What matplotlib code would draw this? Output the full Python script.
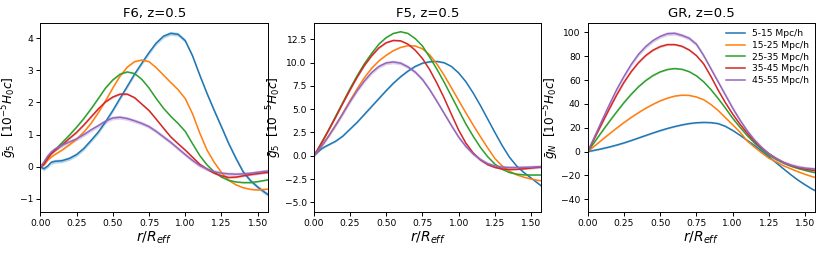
import matplotlib
matplotlib.use("Agg")
import matplotlib.pyplot as plt
import numpy as np

r = [0, 0.025, 0.05, 0.075, 0.1, 0.15, 0.2, 0.25, 0.3, 0.35, 0.4, 0.45, 0.5, 0.55,
     0.6, 0.65, 0.7, 0.75, 0.8, 0.85, 0.9, 0.95, 1.0, 1.05, 1.1, 1.15, 1.2, 1.25,
     1.3, 1.35, 1.4, 1.45, 1.5, 1.55, 1.6]

labels = ["5-15 Mpc/h", "15-25 Mpc/h", "25-35 Mpc/h", "35-45 Mpc/h", "45-55 Mpc/h"]
colors = ["#1f77b4", "#ff7f0e", "#2ca02c", "#d62728", "#9467bd"]

# F6, z=0.5
f6_blue = [0.0, -0.06, 0.02, 0.14, 0.17, 0.19, 0.26, 0.38, 0.57, 0.82, 1.08, 1.40, 1.75, 2.13,
           2.50, 2.88, 3.22, 3.55, 3.85, 4.06, 4.15, 4.12, 3.92, 3.45, 2.85, 2.28, 1.75, 1.24,
           0.72, 0.26, -0.16, -0.43, -0.63, -0.80, -0.95]
f6_orange = [0.0, 0.05, 0.2, 0.3, 0.38, 0.52, 0.68, 0.86, 1.08, 1.35, 1.68, 2.05, 2.45, 2.82,
             3.1, 3.27, 3.32, 3.27, 3.08, 2.85, 2.62, 2.4, 2.12, 1.65, 1.05, 0.52, 0.14, -0.18,
             -0.42, -0.56, -0.65, -0.7, -0.72, -0.7, -0.68]
f6_green = [0.0, 0.1, 0.28, 0.42, 0.52, 0.75, 0.98, 1.23, 1.5, 1.8, 2.12, 2.45, 2.7, 2.88,
            2.95, 2.9, 2.72, 2.45, 2.12, 1.82, 1.57, 1.35, 1.1, 0.72, 0.35, 0.06, -0.16, -0.32,
            -0.42, -0.47, -0.49, -0.49, -0.46, -0.42, -0.38]
f6_red = [0.0, 0.08, 0.25, 0.4, 0.5, 0.68, 0.88, 1.07, 1.3, 1.55, 1.8, 2.02, 2.17, 2.26,
          2.26, 2.15, 1.95, 1.75, 1.48, 1.2, 0.93, 0.72, 0.52, 0.3, 0.08, -0.07, -0.2, -0.28,
          -0.33, -0.32, -0.28, -0.24, -0.21, -0.18, -0.16]
f6_purple = [0.0, 0.15, 0.33, 0.46, 0.55, 0.67, 0.77, 0.87, 1.0, 1.15, 1.28, 1.42, 1.52, 1.54,
             1.5, 1.43, 1.35, 1.25, 1.1, 0.93, 0.76, 0.57, 0.38, 0.2, 0.04, -0.07, -0.15, -0.2,
             -0.22, -0.23, -0.22, -0.2, -0.17, -0.14, -0.12]

# F5, z=0.5
f5_blue = [0.0, 0.35, 0.7, 0.95, 1.15, 1.55, 2.1, 2.85, 3.6, 4.45, 5.3, 6.15, 7.0, 7.8,
           8.5, 9.1, 9.6, 9.95, 10.1, 10.14, 10.0, 9.6, 8.9, 7.95, 6.75, 5.4, 3.95, 2.5,
           1.1, -0.15, -1.1, -1.8, -2.4, -3.0, -3.6]
f5_orange = [0.0, 0.45, 0.95, 1.5, 2.05, 3.25, 4.55, 5.9, 7.2, 8.4, 9.4, 10.2, 10.8, 11.3,
             11.65, 11.83, 11.8, 11.5, 10.85, 9.85, 8.65, 7.3, 5.95, 4.6, 3.3, 2.05, 0.85, -0.3,
             -1.1, -1.65, -2.05, -2.3, -2.5, -2.65, -2.75]
f5_green = [0.0, 0.6, 1.3, 2.0, 2.7, 4.2, 5.7, 7.2, 8.6, 9.9, 11.0, 12.0, 12.7, 13.15,
            13.33, 13.15, 12.6, 11.8, 10.6, 9.3, 7.9, 6.4, 4.9, 3.4, 2.1, 0.9, -0.1, -0.9,
            -1.45, -1.8, -1.98, -2.05, -2.07, -2.07, -2.07]
f5_red = [0.0, 0.6, 1.25, 1.95, 2.65, 4.1, 5.6, 7.05, 8.45, 9.7, 10.75, 11.6, 12.15, 12.4,
          12.35, 12.0, 11.35, 10.45, 9.25, 7.8, 6.2, 4.45, 2.75, 1.35, 0.3, -0.45, -0.95, -1.25,
          -1.42, -1.48, -1.46, -1.4, -1.32, -1.24, -1.18]
f5_purple = [0.0, 0.45, 0.95, 1.5, 2.05, 3.25, 4.5, 5.8, 7.0, 8.05, 8.95, 9.6, 9.98, 10.08,
             9.95, 9.55, 9.0, 8.2, 7.1, 5.85, 4.55, 3.25, 2.0, 1.0, 0.2, -0.4, -0.85, -1.1,
             -1.22, -1.27, -1.27, -1.25, -1.22, -1.18, -1.15]

# GR, z=0.5
gr_blue = [0.0, 0.6, 1.2, 1.8, 2.5, 3.9, 5.5, 7.3, 9.3, 11.4, 13.5, 15.6, 17.6, 19.4,
           21.0, 22.4, 23.5, 24.2, 24.5, 24.3, 23.5, 21.2, 17.8, 13.8, 9.5, 5.2, 0.5, -4.3,
           -9.3, -14.3, -19.2, -23.8, -27.8, -31.5, -34.5]
gr_orange = [0.0, 2.5, 5.0, 7.5, 10.0, 14.9, 19.7, 24.3, 28.6, 32.6, 36.3, 39.6, 42.5, 44.8,
             46.5, 47.3, 47.1, 45.8, 43.5, 39.5, 34.5, 28.5, 22.5, 16.5, 9.0, 3.8, -1.0, -5.5,
             -8.5, -11.8, -14.3, -16.8, -19.0, -21.0, -22.5]
gr_green = [0.0, 4.2, 8.5, 12.8, 17.0, 25.3, 33.3, 41.0, 48.0, 54.3, 59.5, 63.7, 66.8, 68.8,
            69.6, 69.0, 67.0, 63.5, 58.5, 52.0, 44.5, 36.5, 28.0, 20.5, 13.5, 7.3, 2.0, -2.8,
            -6.5, -9.5, -12.0, -14.0, -15.7, -17.2, -18.3]
gr_red = [0.0, 6.0, 12.0, 18.0, 24.0, 36.0, 47.5, 58.0, 67.0, 74.5, 80.5, 85.0, 88.0, 89.7,
          89.7, 88.3, 85.2, 80.5, 73.5, 63.0, 51.5, 41.0, 31.5, 23.0, 15.5, 8.7, 3.0, -1.8,
          -5.7, -9.0, -11.5, -13.4, -14.7, -15.6, -16.3]
gr_purple = [0.0, 6.6, 13.2, 19.8, 26.5, 39.5, 52.0, 63.0, 73.0, 81.5, 88.0, 93.0, 96.5, 98.8,
             99.1, 97.4, 95.0, 90.0, 80.5, 69.5, 58.5, 47.5, 36.5, 26.5, 17.5, 9.8, 3.5, -1.8,
             -5.8, -9.0, -11.2, -12.8, -13.8, -14.4, -14.8]

# half-widths of the shaded uncertainty bands (per curve)
f6_err = [0.06, 0.02, 0.02, 0.03, 0.06]
f5_err = [0.08, 0.05, 0.05, 0.08, 0.2]
gr_err = [0.6, 0.4, 0.5, 0.8, 1.6]

panels = [
    ("F6, z=0.5", [f6_blue, f6_orange, f6_green, f6_red, f6_purple], f6_err,
     (-1.42, 4.48), r"$\bar{g}_5$  $[10^{-5}H_0c]$"),
    ("F5, z=0.5", [f5_blue, f5_orange, f5_green, f5_red, f5_purple], f5_err,
     (-6.1, 14.3), r"$\bar{g}_5$  $[10^{-5}H_0c]$"),
    ("GR, z=0.5", [gr_blue, gr_orange, gr_green, gr_red, gr_purple], gr_err,
     (-51.0, 108.0), r"$\bar{g}_N$  $[10^{-5}H_0c]$"),
]

fig = plt.figure(figsize=(8.31, 2.54), dpi=100)
lefts = [0.0485, 0.3775, 0.7072]
w = 0.274
bottom, height = 0.1634, 0.7472

rr = np.array(r)
for i, (title, series, errs, ylim, ylab) in enumerate(panels):
    ax = fig.add_axes([lefts[i], bottom, w, height])
    for y, e, c, lab in zip(series, errs, colors, labels):
        y = np.array(y)
        ax.fill_between(rr, y - e, y + e, color=c, alpha=0.3, lw=0)
        ax.plot(rr, y, color=c, lw=1.1, label=lab)
    ax.set_xlim(0, np.pi / 2)
    ax.set_ylim(*ylim)
    ax.set_xticks([0, 0.25, 0.5, 0.75, 1.0, 1.25, 1.5])
    ax.tick_params(labelsize=6.6, length=3, width=0.7, pad=2)
    for s in ax.spines.values():
        s.set_linewidth(0.7)
    ax.set_title(title, fontsize=9.5, pad=4)
    ax.set_xlabel(r"$r/R_{eff}$", fontsize=10, labelpad=1)
    ax.set_ylabel(ylab, fontsize=8.7, labelpad=0.5)
    if i == 2:
        ax.legend(loc="upper right", frameon=False, fontsize=6.6,
                  borderaxespad=0.3, labelspacing=0.3, handlelength=2.0)

fig.savefig("out.png", dpi=100)
